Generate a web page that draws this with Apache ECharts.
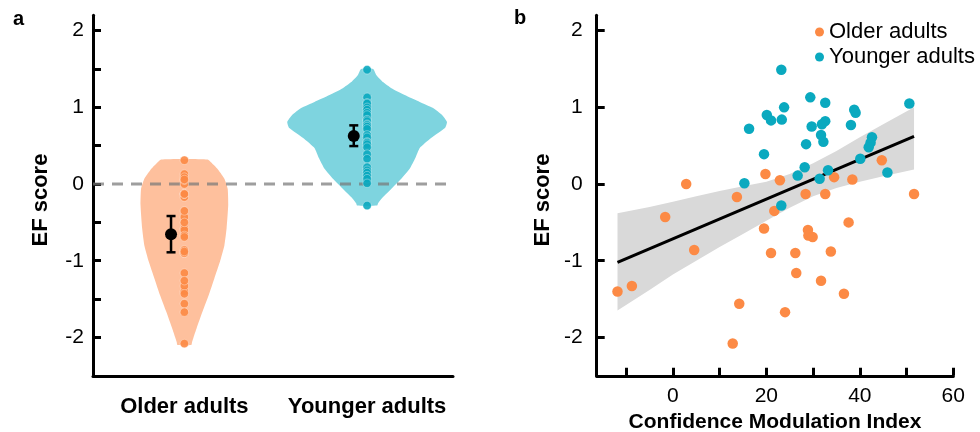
<!DOCTYPE html>
<html><head><meta charset="utf-8">
<script src="https://cdn.jsdelivr.net/npm/echarts@6/dist/echarts.min.js"></script>
<style>html,body{margin:0;padding:0;background:#fff}#c{width:980px;height:432px}</style>
</head><body><div id="c"></div>
<script>
// ---------- data ----------
const groupNames = ['Older adults', 'Younger adults'];
const groupPos = [1, 2];

const olderCMI = [-11.85, -8.77, -1.65, 2.85, 4.56, 13.7, 12.8, 14.2, 19.5, 19.8, 21.0, 21.7, 22.9, 24.0, 26.2, 26.4, 28.4, 28.9, 29.0, 29.9, 31.7, 32.6, 33.8, 34.5, 36.6, 37.6, 38.4, 44.7, 51.6];
const olderEF  = [-1.40, -1.33, -0.43, 0.00, -0.86, -0.17, -2.08, -1.56, -0.58, 0.13, -0.90, -0.35, 0.05, -1.67, -0.90, -1.16, -0.13, -0.60, -0.67, -0.69, -1.26, -0.13, -0.88, 0.09, -1.43, -0.50, 0.06, 0.31, -0.13];

const youngerCMI = [23.2, 29.4, 32.6, 50.6, 23.8, 38.8, 39.1, 20.1, 21.0, 23.3, 32.6, 31.9, 38.1, 29.7, 16.3, 31.7, 42.6, 32.2, 42.3, 28.5, 41.9, 19.5, 40.1, 28.2, 33.2, 45.9, 26.7, 31.4, 15.3, 23.2];
const youngerEF  = [1.49, 1.13, 1.06, 1.05, 1.00, 0.97, 0.93, 0.90, 0.83, 0.84, 0.82, 0.78, 0.77, 0.75, 0.72, 0.64, 0.61, 0.55, 0.54, 0.52, 0.48, 0.39, 0.33, 0.22, 0.18, 0.15, 0.11, 0.07, 0.01, -0.28];

const groupMean   = [-0.656, 0.626];
const groupCILow  = [-0.89, 0.495];
const groupCIHigh = [-0.417, 0.765];

const olderViolinY = [0.32, 0.25, 0.18, 0.07, -0.06, -0.27, -0.58, -0.80, -1.01, -1.23, -1.45, -1.66, -1.88, -2.00, -2.06, -2.10];
const olderViolinHalfWidth = [0.127, 0.160, 0.187, 0.219, 0.237, 0.240, 0.231, 0.219, 0.195, 0.164, 0.133, 0.100, 0.067, 0.050, 0.042, 0.038];
const youngerViolinY = [1.50, 1.42, 1.33, 1.25, 1.16, 1.07, 0.99, 0.90, 0.81, 0.73, 0.60, 0.47, 0.34, 0.20, 0.07, -0.06, -0.17, -0.25, -0.28];
const youngerViolinHalfWidth = [0.033, 0.051, 0.087, 0.133, 0.206, 0.288, 0.361, 0.410, 0.437, 0.426, 0.350, 0.288, 0.264, 0.233, 0.187, 0.133, 0.087, 0.060, 0.055];

const fitX = [-11.85, 51.6];
const fitY = [-1.02, 0.62];
const bandX     = [-11.85, -5, 0, 5, 10, 15, 20, 25, 30, 35, 40, 45, 51.6];
const bandUpper = [-0.38, -0.30, -0.23, -0.16, -0.09, -0.03, 0.03, 0.13, 0.27, 0.43, 0.61, 0.78, 1.00];
const bandLower = [-1.65, -1.38, -1.18, -1.00, -0.82, -0.65, -0.48, -0.31, -0.16, -0.05, 0.03, 0.10, 0.19];

const efTicksA  = [-2, -1.5, -1, -0.5, 0, 0.5, 1, 1.5, 2];
const efTicksB  = [-2, -1, 0, 1, 2];
const efLabels  = [-2, -1, 0, 1, 2];
const cmiTicks  = [-10, 0, 10, 20, 30, 40, 50, 60];
const cmiLabels = [0, 20, 40, 60];

// ---------- styles ----------
const FONT = "'Liberation Sans', Arial, sans-serif";
const ORANGE = '#FC8A45', CYAN = '#0AA9BF';
const VIOLIN = ['#FEC09D', '#7ED4DF'];
const DOT = [ORANGE, CYAN];
const meanOffset = -0.073;

const axisLineStyle = {show: true, onZero: false, lineStyle: {color: '#000', width: 3}};
const tickStyle = (vals) => ({show: true, inside: true, length: 8, customValues: vals, lineStyle: {color: '#000', width: 3}});

const chart = echarts.init(document.getElementById('c'), null, {renderer: 'canvas'});

const violinData = groupPos.map(p => [p, 0]);
const colDots = [];
olderEF.forEach(v => colDots.push([groupPos[0], v, 0]));
youngerEF.forEach(v => colDots.push([groupPos[1], v, 1]));

chart.setOption({
  animation: false,
  textStyle: {fontFamily: FONT},
  grid: [
    {left: 93, top: 15.3, width: 360, height: 360.5, outerBoundsMode: 'none', containLabel: false},
    {left: 596.7, top: 15.3, width: 356.6, height: 360.5, outerBoundsMode: 'none', containLabel: false}
  ],
  xAxis: [
    {gridIndex: 0, type: 'value', min: 0.5, max: 2.47,
     axisLine: axisLineStyle, axisTick: {show: false}, splitLine: {show: false},
     axisLabel: {customValues: groupPos, formatter: v => groupNames[groupPos.indexOf(v)] || '',
                 color: '#000', fontSize: 22, fontWeight: 'bold', fontFamily: FONT, margin: 20}},
    {gridIndex: 1, type: 'value', min: -16.3, max: 60,
     axisLine: axisLineStyle, axisTick: tickStyle(cmiTicks), splitLine: {show: false},
     axisLabel: {customValues: cmiLabels, color: '#000', fontSize: 21, fontFamily: FONT, margin: 10},
     name: 'Confidence Modulation Index', nameLocation: 'middle', nameGap: 29,
     nameTextStyle: {color: '#000', fontSize: 21, fontWeight: 'bold', fontFamily: FONT}}
  ],
  yAxis: [
    {gridIndex: 0, type: 'value', min: -2.5, max: 2.2,
     axisLine: axisLineStyle, axisTick: tickStyle(efTicksA), splitLine: {show: false},
     axisLabel: {customValues: efLabels, color: '#000', fontSize: 21, fontFamily: FONT, margin: 9},
     name: 'EF score', nameLocation: 'middle', nameGap: 41,
     nameTextStyle: {color: '#000', fontSize: 22, fontWeight: 'bold', fontFamily: FONT, padding: [0, 9, 0, 0]}},
    {gridIndex: 1, type: 'value', min: -2.5, max: 2.2,
     axisLine: axisLineStyle, axisTick: tickStyle(efTicksB), splitLine: {show: false},
     axisLabel: {customValues: efLabels, color: '#000', fontSize: 21, fontFamily: FONT, margin: 14},
     name: 'EF score', nameLocation: 'middle', nameGap: 43,
     nameTextStyle: {color: '#000', fontSize: 22, fontWeight: 'bold', fontFamily: FONT, padding: [0, 9, 0, 0]}}
  ],
  legend: {
    orient: 'vertical', left: 810, top: 16, itemGap: 3, itemWidth: 9, itemHeight: 9, icon: 'circle',
    data: ['Older adults', 'Younger adults'],
    textStyle: {color: '#000', fontSize: 22, fontFamily: FONT}
  },
  graphic: [
    {type: 'text', left: 13, top: 9, style: {text: 'a', font: "bold 20px 'Liberation Sans', Arial", fill: '#000'}},
    {type: 'text', left: 514, top: 8, style: {text: 'b', font: "bold 20px 'Liberation Sans', Arial", fill: '#000'}}
  ],
  series: [
    // violins
    {type: 'custom', xAxisIndex: 0, yAxisIndex: 0, z: 1, silent: true, data: violinData,
     renderItem: (params, api) => {
       const g = params.dataIndex;
       const ys = g === 0 ? olderViolinY : youngerViolinY;
       const ws = g === 0 ? olderViolinHalfWidth : youngerViolinHalfWidth;
       const cx = api.value(0);
       const pts = [];
       for (let i = 0; i < ys.length; i++) pts.push(api.coord([cx + ws[i], ys[i]]));
       for (let i = ys.length - 1; i >= 0; i--) pts.push(api.coord([cx - ws[i], ys[i]]));
       return {type: 'polygon', shape: {points: pts, smooth: 0.15}, style: {fill: VIOLIN[g]}};
     }},
    // zero dashed line
    {type: 'line', xAxisIndex: 0, yAxisIndex: 0, z: 2, silent: true, symbol: 'none',
     data: [[0.5, 0], [2.47, 0]],
     lineStyle: {color: 'rgba(120,120,120,0.72)', width: 3, type: [11, 8]}},
    // column dots
    {type: 'scatter', name: 'col', xAxisIndex: 0, yAxisIndex: 0, z: 3, symbolSize: 8.5, data: colDots,
     itemStyle: {color: p => DOT[p.value[2]], opacity: 0.9, borderColor: 'rgba(255,255,255,0.5)', borderWidth: 0.8}},
    // error bars
    {type: 'custom', xAxisIndex: 0, yAxisIndex: 0, z: 4, silent: true,
     data: groupPos.map((p, i) => [p + meanOffset, groupCILow[i], groupCIHigh[i]]),
     renderItem: (params, api) => {
       const x = api.value(0);
       const a = api.coord([x, api.value(1)]), b = api.coord([x, api.value(2)]);
       const c = 4.5, st = {stroke: '#000', lineWidth: 2.5};
       return {type: 'group', children: [
         {type: 'line', shape: {x1: a[0], y1: a[1], x2: b[0], y2: b[1]}, style: st},
         {type: 'line', shape: {x1: a[0] - c, y1: a[1], x2: a[0] + c, y2: a[1]}, style: st},
         {type: 'line', shape: {x1: b[0] - c, y1: b[1], x2: b[0] + c, y2: b[1]}, style: st}
       ]};
     }},
    // means
    {type: 'scatter', name: 'mean', xAxisIndex: 0, yAxisIndex: 0, z: 5, symbolSize: 12,
     data: groupPos.map((p, i) => [p + meanOffset, groupMean[i]]), itemStyle: {color: '#000', opacity: 1}},
    // CI band
    {type: 'custom', xAxisIndex: 1, yAxisIndex: 1, z: 1, silent: true, data: [[0, 0]],
     renderItem: (params, api) => {
       const pts = [];
       for (let i = 0; i < bandX.length; i++) pts.push(api.coord([bandX[i], bandUpper[i]]));
       for (let i = bandX.length - 1; i >= 0; i--) pts.push(api.coord([bandX[i], bandLower[i]]));
       return {type: 'polygon', shape: {points: pts}, style: {fill: '#D9D9D9'}};
     }},
    // fit line
    {type: 'line', xAxisIndex: 1, yAxisIndex: 1, z: 2, silent: true, symbol: 'none',
     data: fitX.map((x, i) => [x, fitY[i]]), lineStyle: {color: '#000', width: 3}},
    // scatters
    {type: 'scatter', name: 'Older adults', xAxisIndex: 1, yAxisIndex: 1, z: 3, symbolSize: 10.5,
     data: olderCMI.map((x, i) => [x, olderEF[i]]), itemStyle: {color: ORANGE, opacity: 1}},
    {type: 'scatter', name: 'Younger adults', xAxisIndex: 1, yAxisIndex: 1, z: 3, symbolSize: 10.5,
     data: youngerCMI.map((x, i) => [x, youngerEF[i]]), itemStyle: {color: CYAN, opacity: 1}}
  ]
});
</script>
</body></html>
